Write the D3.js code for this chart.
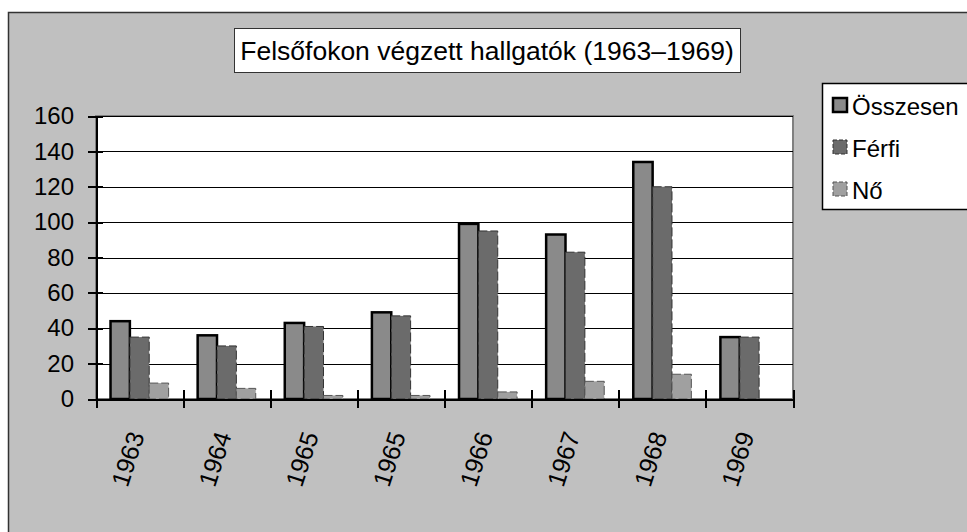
<!DOCTYPE html>
<meta charset="utf-8">
<style>
body { margin: 0; background: #fff; }
svg { display: block; font-family: "Liberation Sans", Arial, sans-serif; }
.axis path, .axis line { stroke: #000; stroke-width: 2px; shape-rendering: crispEdges; }
.axis text { fill: #000; font-size: 24px; font-family: "Liberation Sans", Arial, sans-serif; }
.grid line { stroke: #000; stroke-width: 1px; shape-rendering: crispEdges; }
</style>
<body>
<script src="https://cdn.jsdelivr.net/npm/d3@7"></script>
<script>

var years = ["1963", "1964", "1965", "1965", "1966", "1967", "1968", "1969"];
var osszesen = [44, 36, 43, 49, 99, 93, 134, 35];
var ferfi = [35, 30, 41, 47, 95, 83, 120, 35];
var no = [9, 6, 2, 2, 4, 10, 14, 0];
var seriesNames = ["Összesen", "Férfi", "Nő"];
var yTicks = [0, 20, 40, 60, 80, 100, 120, 140, 160];
var title = "Felsőfokon végzett hallgatók (1963–1969)";

var W = 967, H = 532;
var plotL = 96, plotR = 793, plotT = 116, plotB = 399;

var styles = [
  { fill: "#8a8a8a", stroke: "#000", width: 2.5, dash: null },
  { fill: "#6b6b6b", stroke: "#333", width: 1, dash: "9,3" },
  { fill: "#a0a0a0", stroke: "#555", width: 1, dash: "9,3" }
];

var svg = d3.select("body").append("svg")
    .attr("width", W)
    .attr("height", H);

// outer chart frame
svg.append("rect")
    .attr("x", 8.5).attr("y", 12.5)
    .attr("width", W + 10).attr("height", H + 10)
    .attr("fill", "#c0c0c0")
    .attr("stroke", "#333")
    .attr("stroke-width", 1.5);

var x = d3.scaleBand().domain(d3.range(years.length)).range([plotL, plotR]);
var x1 = d3.scaleBand().domain(seriesNames).range([0, x.bandwidth()])
    .paddingInner(0).paddingOuter(0.75);
var xEdge = d3.scaleLinear().domain([0, years.length]).range([plotL, plotR]);
var y = d3.scaleLinear().domain([0, 160]).range([plotB, plotT]);

// plot area
svg.append("rect")
    .attr("x", plotL).attr("y", plotT)
    .attr("width", plotR - plotL).attr("height", plotB - plotT)
    .attr("fill", "#fff")
    .attr("stroke", "#808080")
    .attr("stroke-width", 2);

svg.append("g").attr("class", "grid")
  .selectAll("line")
  .data(yTicks.slice(1))
  .enter().append("line")
    .attr("x1", plotL).attr("x2", plotR)
    .attr("y1", function(d) { return Math.round(y(d)) + 0.5; })
    .attr("y2", function(d) { return Math.round(y(d)) + 0.5; });

var data = years.map(function(yr, i) {
  return { i: i, values: [osszesen[i], ferfi[i], no[i]] };
});

var groups = svg.append("g").selectAll("g")
  .data(data)
  .enter().append("g")
    .attr("transform", function(d) { return "translate(" + x(d.i) + ",0)"; });

groups.selectAll("rect")
  .data(function(d) {
    return d.values.map(function(v, k) { return { v: v, k: k }; }).filter(function(e) { return e.v > 0; });
  })
  .enter().append("rect")
    .attr("x", function(d) { return x1(seriesNames[d.k]); })
    .attr("y", function(d) { return y(d.v); })
    .attr("width", x1.bandwidth())
    .attr("height", function(d) { return y(0) - y(d.v); })
    .attr("fill", function(d) { return styles[d.k].fill; })
    .attr("stroke", function(d) { return styles[d.k].stroke; })
    .attr("stroke-width", function(d) { return styles[d.k].width; })
    .attr("stroke-dasharray", function(d) { return styles[d.k].dash; });

// y axis with crossing ticks
var yAxis = svg.append("g").attr("class", "axis")
    .attr("transform", "translate(" + plotL + ",0)")
    .call(d3.axisLeft(y).tickValues(yTicks).tickSize(8).tickSizeOuter(0).tickPadding(14));
yAxis.selectAll(".tick line").attr("x1", 7);

// x axis, ticks at category edges
var xAxis = svg.append("g").attr("class", "axis")
    .attr("transform", "translate(0," + plotB + ")")
    .call(d3.axisBottom(xEdge).tickValues(d3.range(years.length + 1)).tickSize(9).tickSizeOuter(0).tickFormat(""));
xAxis.selectAll(".tick line").attr("y1", -9);

svg.append("g").selectAll("text")
  .data(years)
  .enter().append("text")
    .attr("transform", function(d, i) {
      return "translate(" + (x(i) + x.bandwidth() / 2 - 12) + ",459) rotate(-72)";
    })
    .attr("text-anchor", "middle")
    .attr("dominant-baseline", "central")
    .attr("font-size", 25)
    .text(function(d) { return d; });

// title
svg.append("rect")
    .attr("x", 234.5).attr("y", 28.5)
    .attr("width", 506).attr("height", 44)
    .attr("fill", "#fff")
    .attr("stroke", "#333")
    .attr("stroke-width", 1);
svg.append("text")
    .attr("x", 487).attr("y", 60)
    .attr("text-anchor", "middle")
    .attr("font-size", 26.5)
    .text(title);

// legend
svg.append("rect")
    .attr("x", 822.5).attr("y", 83.5)
    .attr("width", 160).attr("height", 126)
    .attr("fill", "#fff")
    .attr("stroke", "#000")
    .attr("stroke-width", 1.5);

var leg = svg.append("g").selectAll("g")
  .data(seriesNames)
  .enter().append("g")
    .attr("transform", function(d, k) { return "translate(833," + (105 + k * 42) + ")"; });
leg.append("rect")
    .attr("x", 0).attr("y", -7)
    .attr("width", 14).attr("height", 14)
    .attr("fill", function(d, k) { return styles[k].fill; })
    .attr("stroke", function(d, k) { return styles[k].stroke; })
    .attr("stroke-width", function(d, k) { return styles[k].width; })
    .attr("stroke-dasharray", function(d, k) { return styles[k].dash ? "4,2" : null; });
leg.append("text")
    .attr("x", 19).attr("y", 1)
    .attr("dominant-baseline", "central")
    .attr("font-size", 24)
    .text(function(d) { return d; });

</script>
</body>
